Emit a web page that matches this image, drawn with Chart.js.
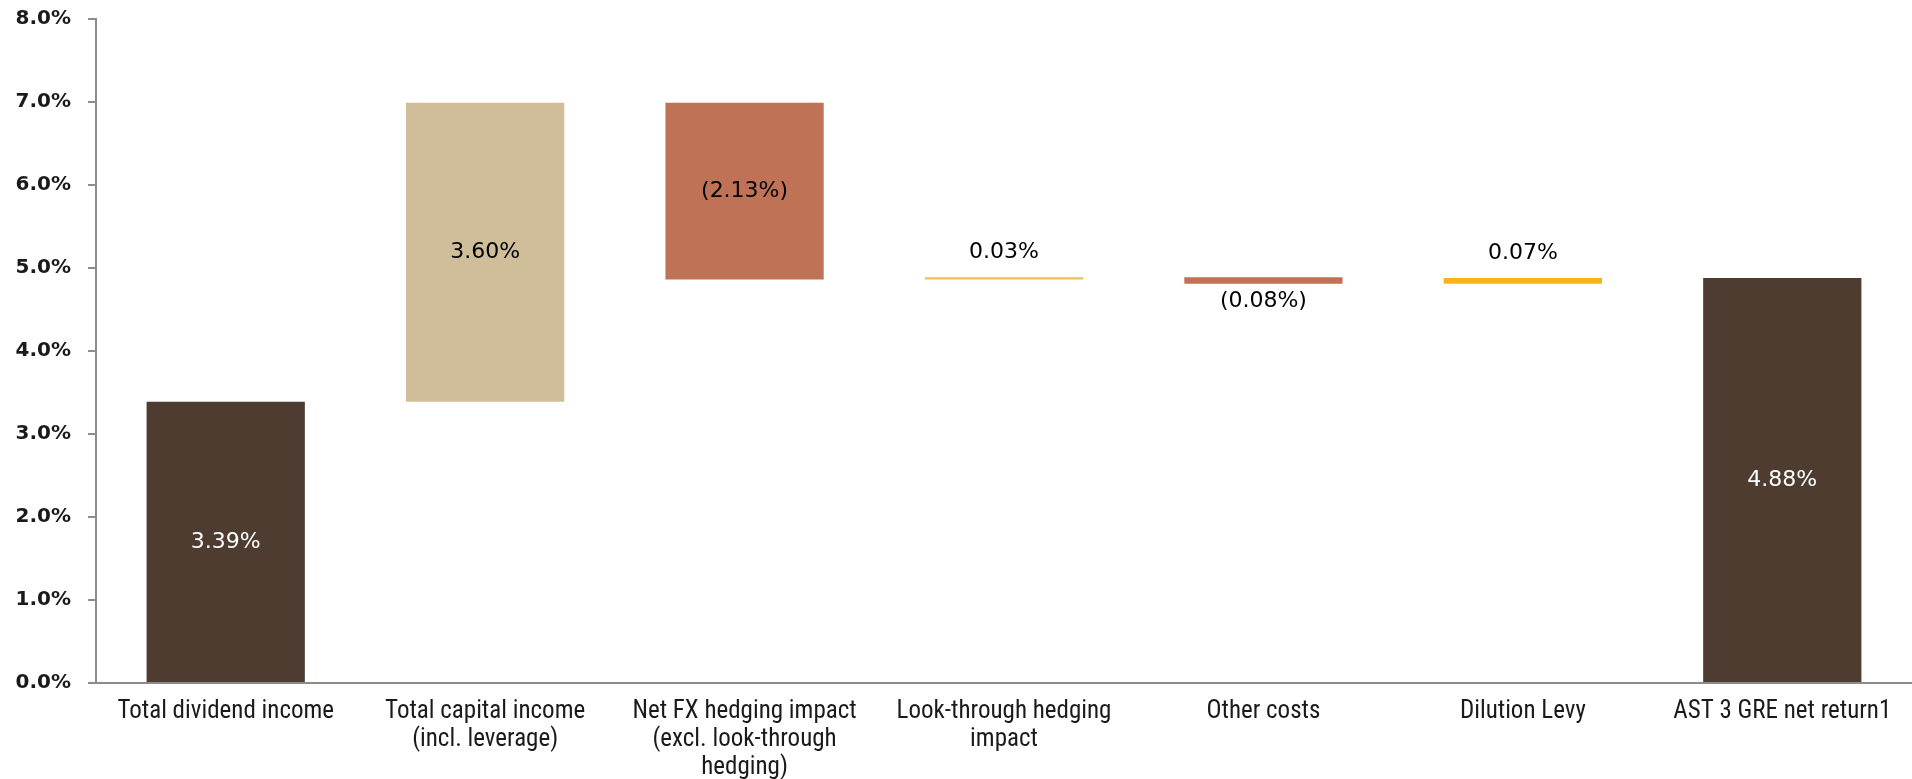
<!DOCTYPE html>
<html>
<head>
<meta charset="utf-8">
<script src="https://cdn.jsdelivr.net/npm/chart.js@4.4.1/dist/chart.umd.min.js"></script>
<style>
  html, body { margin: 0; padding: 0; background: #ffffff; }
  #wrap { width: 1912px; height: 779px; position: relative; }
</style>
</head>
<body>
<div id="wrap"><canvas id="chart"></canvas></div>
<script>
// Return attribution steps (percentage points)
const categories = [
  ['Total dividend income'],
  ['Total capital income', '(incl. leverage)'],
  ['Net FX hedging impact', '(excl. look-through', 'hedging)'],
  ['Look-through hedging', 'impact'],
  ['Other costs'],
  ['Dilution Levy'],
  ['AST 3 GRE net return1']
];
const changes = [3.39, 3.60, -2.13, 0.03, -0.08, 0.07, null]; // null = running total
const valueLabels = ['3.39%', '3.60%', '(2.13%)', '0.03%', '(0.08%)', '0.07%', '4.88%'];
const barColors = ['#4E3C30', '#D0BE9A', '#C07256', '#E7C35A', '#C07256', '#F4B712', '#4E3C30'];
const labelColors = ['#ffffff', '#000000', '#000000', '#000000', '#000000', '#000000', '#ffffff'];
const labelPlacement = ['inside', 'inside', 'inside', 'above', 'below', 'above', 'inside'];
const yTicks = [0, 1, 2, 3, 4, 5, 6, 7, 8];

// Floating bar ranges built from the step values
const ranges = [];
let running = 0;
changes.forEach(c => {
  if (c === null) {
    ranges.push([0, Math.round(running * 100) / 100]);
  } else {
    const start = running;
    running = Math.round((running + c) * 100) / 100;
    ranges.push([start, running]);
  }
});

const valueLabelPlugin = {
  id: 'valueLabels',
  afterDatasetsDraw(chart) {
    const ctx = chart.ctx;
    const meta = chart.getDatasetMeta(0);
    ctx.save();
    ctx.font = '22px "DejaVu Sans", sans-serif';
    ctx.textAlign = 'center';
    ctx.textBaseline = 'middle';
    meta.data.forEach((bar, i) => {
      const top = Math.min(bar.y, bar.base);
      const bottom = Math.max(bar.y, bar.base);
      let y;
      if (labelPlacement[i] === 'above') {
        y = top - 25;
      } else if (labelPlacement[i] === 'below') {
        y = bottom + 18;
      } else {
        y = (top + bottom) / 2;
      }
      ctx.fillStyle = labelColors[i];
      ctx.fillText(valueLabels[i], bar.x, y);
    });
    ctx.restore();
  }
};

new Chart(document.getElementById('chart'), {
  type: 'bar',
  data: {
    labels: categories,
    datasets: [{
      data: ranges,
      backgroundColor: barColors,
      borderWidth: 0,
      categoryPercentage: 1,
      barPercentage: 0.61
    }]
  },
  options: {
    responsive: true,
    maintainAspectRatio: false,
    animation: false,
    layout: { padding: { top: 19, right: 0, left: 0, bottom: 0 } },
    plugins: {
      legend: { display: false },
      tooltip: { enabled: false }
    },
    scales: {
      x: {
        afterFit(scale) { scale.height = 96; },
        grid: { display: false, drawTicks: false },
        border: { color: '#8C8C8C', width: 2 },
        ticks: {
          color: '#1a1a1a',
          padding: 15,
          maxRotation: 0,
          autoSkip: false,
          font: { family: '"Liberation Sans Narrow", "Roboto Condensed", sans-serif', size: 25, lineHeight: 1.12 }
        }
      },
      y: {
        min: 0,
        max: 8,
        afterBuildTicks(scale) { scale.ticks = yTicks.map(v => ({ value: v })); },
        afterFit(scale) { scale.width = 96; scale.paddingTop = 0; scale.paddingBottom = 0; },
        grid: { drawOnChartArea: false, drawTicks: true, tickLength: 8, color: '#8C8C8C', lineWidth: 2 },
        border: { color: '#8C8C8C', width: 2 },
        ticks: {
          color: '#1a1a1a',
          padding: 17,
          callback: v => v.toFixed(1) + '%',
          font: { family: '"DejaVu Sans", sans-serif', size: 20, weight: 'bold' }
        }
      }
    }
  },
  plugins: [valueLabelPlugin]
});
</script>
</body>
</html>
